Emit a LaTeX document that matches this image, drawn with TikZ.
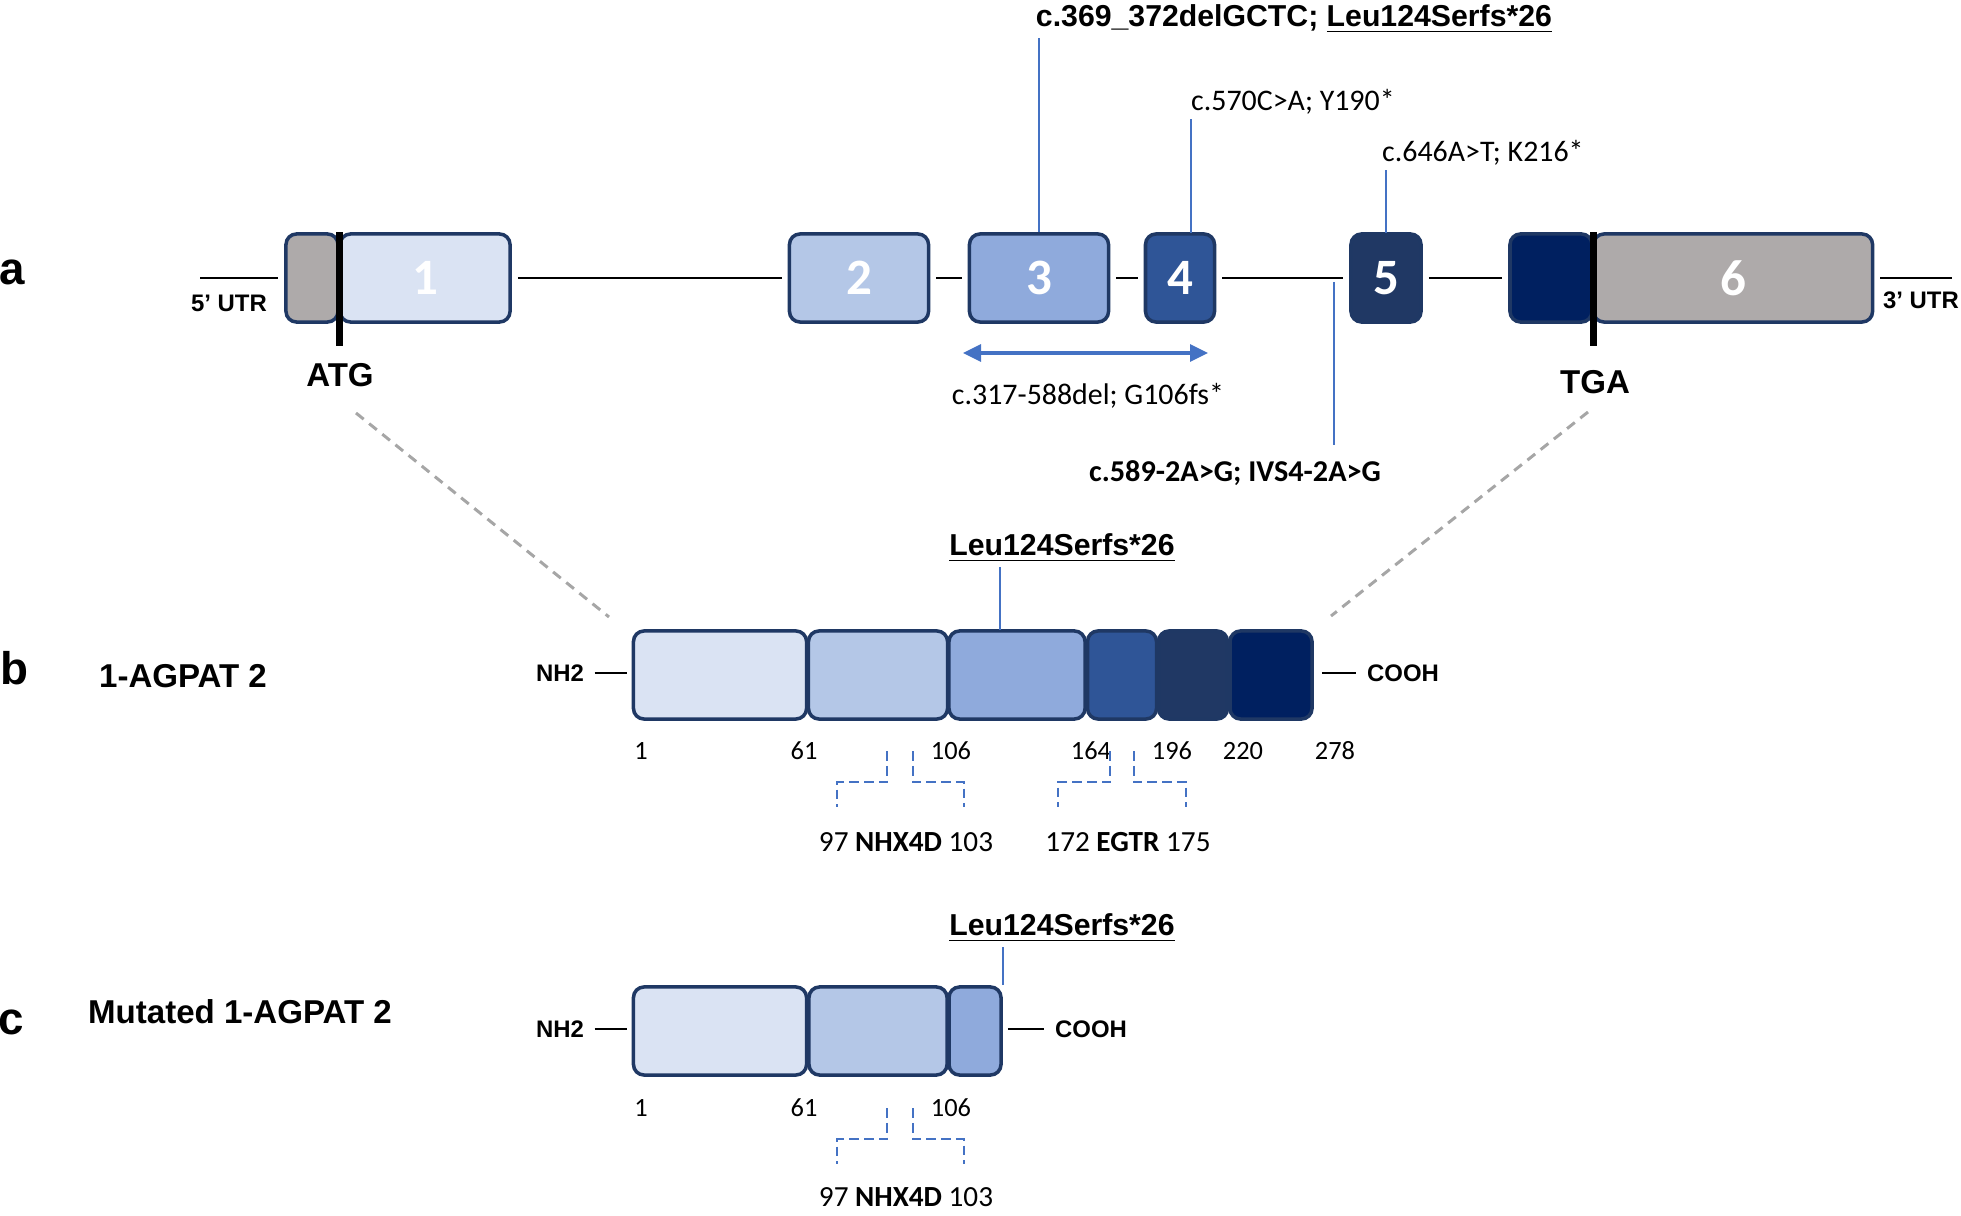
\documentclass[tikz,border=0pt]{standalone}
\usepackage{fontspec}
\setmainfont{Carlito}
\newfontfamily\arial{Liberation Sans}
\usetikzlibrary{arrows.meta}
\definecolor{utrgray}{HTML}{AEAAAA}
\definecolor{exA}{HTML}{DAE3F3}
\definecolor{exB}{HTML}{B4C7E7}
\definecolor{exC}{HTML}{8FAADC}
\definecolor{exD}{HTML}{2F5597}
\definecolor{exE}{HTML}{203864}
\definecolor{exF}{HTML}{002060}
\definecolor{rim}{HTML}{1F3864}
\definecolor{mutblue}{HTML}{4472C4}
\definecolor{guidegray}{HTML}{A6A6A6}

\begin{document}
\begin{tikzpicture}[x=0.01cm,y=-0.01cm]
\tikzset{exon/.style={draw=rim, line width=1pt, rounded corners=3pt, minimum height=0.88cm, inner sep=0pt, text=white, font=\fontsize{14.5}{16}\selectfont\bfseries},
  intron/.style={line width=0.6pt, shorten <=0.06cm, shorten >=0.06cm},
  tail/.style={line width=0.6pt},
  codon/.style={line width=2pt},
  mutline/.style={draw=mutblue, line width=0.5pt},
  mut/.style={font=\fontsize{8.5}{10}\selectfont, inner sep=1pt},
  mutcb/.style={font=\fontsize{8.6}{10}\selectfont\bfseries, inner sep=1pt},
  mutbf/.style={font=\arial\fontsize{8.6}{10}\selectfont\bfseries, inner sep=1pt},
  panel/.style={font=\arial\fontsize{13}{15}\selectfont\bfseries},
  title/.style={font=\arial\fontsize{9.4}{11}\selectfont\bfseries},
  term/.style={font=\arial\fontsize{6.8}{8}\selectfont\bfseries, inner sep=0.1cm},
  resnum/.style={font=\fontsize{7.5}{9}\selectfont},
  motif/.style={font=\fontsize{8.3}{10}\selectfont},
  motifline/.style={draw=mutblue, line width=0.7pt, dash pattern=on 2.8pt off 1.4pt},
  zoomline/.style={draw=guidegray, line width=0.85pt, dash pattern=on 2.8pt off 2pt},
  delarrow/.style={draw=mutblue, line width=0.9pt, {Triangle[length=0.18cm,width=0.17cm]}-{Triangle[length=0.18cm,width=0.17cm]}}}
\useasboundingbox (0,0) rectangle (1961,1216);

% a: gene
\node[panel] (pa) at (12,272) {a};
\coordinate (utr5) at (194,278);
\coordinate (utr3) at (1958,278);
\node[exon, fill=utrgray, minimum width=0.52cm] (e0) at (312,278) {};
\node[exon, fill=exA, minimum width=1.70cm] (e1) at (425,278) {1};
\node[exon, fill=exB, minimum width=1.39cm] (e2) at (859,278) {2};
\node[exon, fill=exC, minimum width=1.39cm] (e3) at (1039,278) {3};
\node[exon, fill=exD, minimum width=0.69cm] (e4) at (1180,278) {4};
\node[exon, fill=exE, minimum width=0.70cm] (e5) at (1386,278) {5};
\node[exon, fill=exF, minimum width=0.82cm] (e6a) at (1551,278) {};
\node[exon, fill=utrgray, minimum width=2.79cm] (e6) at (1733,278) {6};
\draw[intron] (utr5) -- (e0.west);
\draw[intron] (e1.east) -- (e2.west);
\draw[intron] (e2.east) -- (e3.west);
\draw[intron] (e3.east) -- (e4.west);
\draw[intron] (e4.east) -- (e5.west);
\draw[intron] (e5.east) -- (e6a.west);
\draw[intron] (e6.east) -- (utr3);
\draw[codon] (e0.north east) -- ++(0,114);
\draw[codon] (e6a.north east) -- ++(0,114);
\node[term] (u5) at (229,303) {5’ UTR};
\node[term] (u3) at (1921,300) {3’ UTR};
\node[title] (atg) at (340,375) {ATG};
\node[title] (tga) at (1595,382) {TGA};

% mutations
\node[mutbf] (m369) at (1294,19) {c.369\_372delGCTC; \underline{Leu124Serfs*26}};
\draw[mutline] (e3.north) -- (e3.north |- m369.south);
\node[mut, anchor=west] (m570) at (1187,102) {c.570C>A; Y190*};
\coordinate (hit4) at (1191,233);
\draw[mutline] (hit4) -- (hit4 |- m570.south);
\node[mut, anchor=west] (m646) at (1378,153) {c.646A>T; K216*};
\coordinate (hit5) at (1386,233);
\draw[mutline] (hit5) -- (hit5 |- m646.south);
\coordinate (del1) at (963,353);
\coordinate (del2) at (1208,353);
\draw[delarrow] (del1) -- (del2);
\node[mut] (mdel) at (1088,396) {c.317-588del; G106fs*};
\coordinate (sp1) at (1334,282);
\coordinate (sp2) at (1334,445);
\draw[mutline] (sp1) -- (sp2);
\node[mutcb] (msp) at (1235,473) {c.589-2A>G; IVS4-2A>G};

% zoom to protein
\coordinate (z1) at (356,413);
\coordinate (z2) at (609,617);
\coordinate (z3) at (1588,412);
\coordinate (z4) at (1331,616);
\draw[zoomline] (z1) -- (z2);
\draw[zoomline] (z3) -- (z4);

% b: protein
\node[panel] (pb) at (14,668) {b};
\node[title] (nameb) at (183,676) {1-AGPAT 2};
\node[exon, fill=exA, minimum width=1.73cm] (b1) at (720,675) {};
\node[exon, fill=exB, minimum width=1.39cm] (b2) at (878,675) {};
\node[exon, fill=exC, minimum width=1.36cm] (b3) at (1017,675) {};
\node[exon, fill=exD, minimum width=0.69cm] (b4) at (1122,675) {};
\node[exon, fill=exE, minimum width=0.69cm] (b5) at (1193,675) {};
\node[exon, fill=exF, minimum width=0.82cm] (b6) at (1271,675) {};
\node[term] (nh2b) at (560,673) {NH2};
\node[term] (coohb) at (1403,673) {COOH};
\draw[tail, shorten >=0.05cm] (nh2b.east) -- (nh2b.east -| b1.west);
\draw[tail, shorten <=0.08cm] (b6.east |- coohb.west) -- (coohb.west);
\node[mutbf] (leub) at (1062,548) {\underline{Leu124Serfs*26}};
\coordinate (hitb) at (1000,630);
\draw[mutline] (hitb) -- (hitb |- leub.south);
\node[resnum] (n1b) at (641,751) {1};
\node[resnum] (n61b) at (804,751) {61};
\node[resnum] (n106b) at (951,751) {106};
\node[resnum] (n164b) at (1091,751) {164};
\node[resnum] (n196b) at (1172,751) {196};
\node[resnum] (n220b) at (1243,751) {220};
\node[resnum] (n278b) at (1335,751) {278};
\draw[motifline] (887,751) -- (887,782) -- (837,782) -- (837,807);
\draw[motifline] (913,751) -- (913,782) -- (964,782) -- (964,807);
\draw[motifline] (1110,751) -- (1110,782) -- (1058,782) -- (1058,807);
\draw[motifline] (1134,751) -- (1134,782) -- (1186,782) -- (1186,807);
\node[motif] (nhxb) at (906,842) {97 \textbf{NHX4D} 103};
\node[motif] (egtr) at (1128,842) {172 \textbf{EGTR} 175};

% c: truncated protein
\node[panel] (pc) at (11,1022) {c};
\node[title] (namec) at (240,1012) {Mutated 1-AGPAT 2};
\node[exon, fill=exA, minimum width=1.73cm] (c1) at (720,1031) {};
\node[exon, fill=exB, minimum width=1.38cm] (c2) at (878,1031) {};
\node[exon, fill=exC, minimum width=0.52cm] (c3) at (975,1031) {};
\node[term] (nh2c) at (560,1029) {NH2};
\node[term] (coohc) at (1091,1029) {COOH};
\draw[tail, shorten >=0.05cm] (nh2c.east) -- (nh2c.east -| c1.west);
\draw[tail, shorten <=0.05cm] (c3.east |- coohc.west) -- (coohc.west);
\node[mutbf] (leuc) at (1062,928) {\underline{Leu124Serfs*26}};
\draw[mutline] (c3.north east) -- (c3.north east |- leuc.south);
\node[resnum] (n1c) at (641,1108) {1};
\node[resnum] (n61c) at (804,1108) {61};
\node[resnum] (n106c) at (951,1108) {106};
\draw[motifline] (887,1108) -- (887,1139) -- (837,1139) -- (837,1164);
\draw[motifline] (913,1108) -- (913,1139) -- (964,1139) -- (964,1164);
\node[motif] (nhxc) at (906,1197) {97 \textbf{NHX4D} 103};
\end{tikzpicture}
\end{document}
